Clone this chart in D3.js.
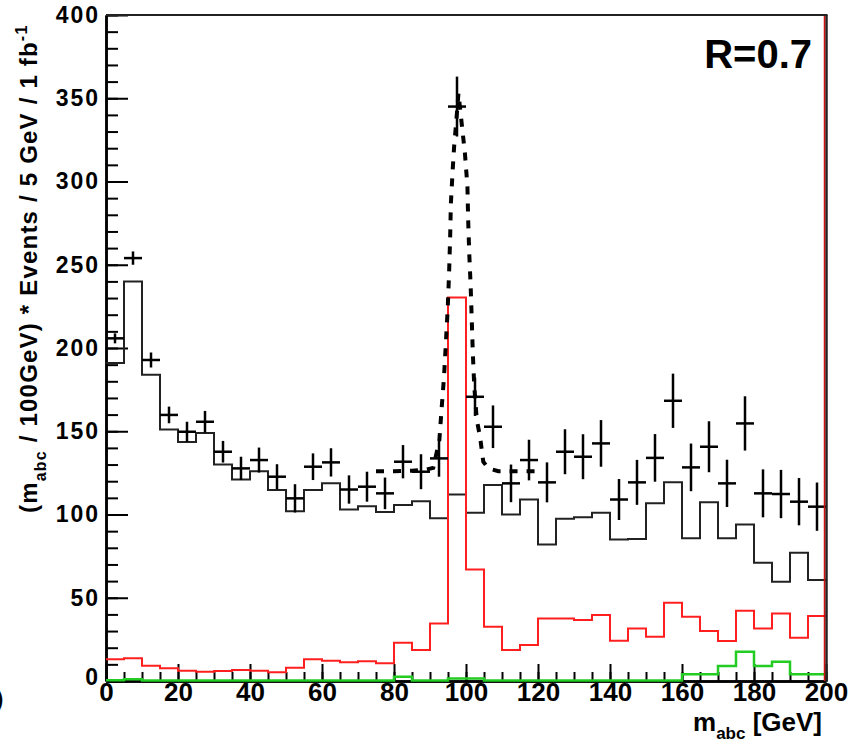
<!DOCTYPE html>
<html>
<head>
<meta charset="utf-8">
<script src="https://cdn.jsdelivr.net/npm/d3@7"></script>
<style>
  body { margin: 0; background: #fff; }
  text { font-family: "Liberation Sans", Arial, Helvetica, sans-serif; font-weight: bold; }
</style>
</head>
<body>
<svg id="chart"></svg>
<script>
// bin edges: 40 bins of 5 GeV from 0 to 200
let binLow = d3.range(0, 200, 5);

// black solid histogram (background)
let bkgHist = [191, 240, 184, 151, 143.5, 149, 130, 121, 126, 114.7,
               102, 114.7, 118.7, 103, 105, 101.5, 105.7, 108, 97.7, 112,
               101, 117.7, 100, 109, 82, 97.5, 98.3, 101, 85, 85.3,
               106.7, 119.3, 85.7, 107.3, 85.7, 94, 71, 59.6, 77, 60.7];

// red histogram (signal)
let sigHist = [13, 13.6, 9.2, 7.6, 6.2, 5.6, 6, 6.6, 6.2, 5.2,
               8, 13, 12.2, 11.2, 11.8, 10.6, 23, 18.6, 34.6, 230.4,
               67, 32.6, 18.6, 21.6, 37.6, 37.6, 36.6, 39.6, 24.2, 31.6,
               26.6, 47, 38.6, 30, 24, 42.2, 31.6, 40.6, 26, 39];

// green histogram
let greenHist = [0.5, 1, 0.3, 0.3, 0.3, 0.3, 0.3, 0.3, 0.3, 0.3,
                 0.3, 0.3, 0.3, 0.3, 0.3, 0.3, 2.5, 0.3, 0.3, 1.5,
                 1.5, 0.3, 0.3, 0.3, 0.3, 0.3, 0.3, 0.3, 0.3, 0.3,
                 0.3, 0.3, 4, 4, 9, 17.5, 9, 11.5, 4, 4];

// data points with errors
let dataVals = [205.8, 254, 192.8, 159.8, 149.7, 155.7, 137.7, 127.7, 132.7, 122.7,
                109.7, 128.7, 131.3, 115, 116.7, 112.7, 131.7, 125.7, 133.7, 345,
                170.7, 152.7, 118.7, 132.7, 119.3, 137.7, 134.7, 142.7, 109, 119.3,
                134, 168.3, 128.3, 140.7, 118.7, 154.7, 112.7, 112.3, 107.7, 104.7];
let dataErr = [3, 4, 4.5, 5, 6, 6.5, 6.5, 7, 7.5, 7.5,
               8.5, 8, 8.5, 8.5, 9, 9.5, 10, 10.5, 11, 18,
               11.5, 12.8, 11.3, 12.2, 12, 13.5, 13.5, 14, 12.3, 13.5,
               14.3, 16.3, 14.3, 15.3, 14.2, 16.3, 14.4, 14.5, 14.2, 14.5];

// dashed fit curve
let fitX = [75, 80, 85, 89, 90.9, 92.6, 93.2, 93.9, 94.4, 94.9, 95.3, 95.6, 95.8, 96.3, 96.7, 97.4, 97.9,
            99.0, 99.7, 100.4, 100.6, 100.9, 101.3, 101.6, 101.9, 102.3, 103.0, 103.9, 104.8, 106.2, 109, 115, 120];
let fitY = [126, 126, 126.3, 127, 128, 144.7, 162.8, 182.8, 202.8, 222.8, 244.9, 266.9, 286.9, 306.9, 320.9, 338.9, 353,
            330.9, 317, 296.9, 276.9, 256.9, 236.8, 216.8, 196.8, 176.8, 156.8, 146.7, 131.7, 127.7, 126, 126, 126];

let xTicks = [0, 20, 40, 60, 80, 100, 120, 140, 160, 180, 200];
let yTicks = [0, 50, 100, 150, 200, 250, 300, 350, 400];

function drawChart() {
    let margin = {top: 15, right: 25, bottom: 65, left: 106};
    let totalW = 851, totalH = 746;
    let width = totalW - margin.left - margin.right;
    let height = totalH - margin.top - margin.bottom;

    let svg = d3.select("#chart")
        .attr("width", totalW)
        .attr("height", totalH);

    let g = svg.append("g")
        .attr("transform", "translate(" + margin.left + "," + margin.top + ")");

    let x = d3.scaleLinear().domain([0, 200]).range([0, width]);
    let y = d3.scaleLinear().domain([0, 400]).range([height, 0]);

    // y axis, ticks pointing inside
    let yMinor = g.append("g")
        .call(d3.axisLeft(y).tickValues(d3.range(0, 401, 10)).tickSize(-12).tickSizeOuter(0).tickFormat(""));
    let yAxis = g.append("g")
        .call(d3.axisLeft(y).tickValues(yTicks).tickSize(-22).tickSizeOuter(0).tickPadding(6));

    // x axis, ticks pointing up
    let xMinor = g.append("g")
        .attr("transform", "translate(0," + height + ")")
        .call(d3.axisBottom(x).tickValues(d3.range(0, 201, 5)).tickSize(-9).tickSizeOuter(0).tickFormat(""));
    let xAxis = g.append("g")
        .attr("transform", "translate(0," + height + ")")
        .call(d3.axisBottom(x).tickValues(xTicks).tickSize(-17).tickSizeOuter(0).tickPadding(6));

    g.selectAll(".domain").attr("stroke", "black").attr("stroke-width", 2.5);
    g.selectAll(".tick line").attr("stroke", "black").attr("stroke-width", 2);

    yAxis.selectAll("text")
        .attr("font-size", "23px")
        .attr("letter-spacing", "2px")
        .attr("fill", "black");
    yAxis.selectAll("text").filter(d => d == 0)
        .attr("dy", "0.15em");

    xAxis.selectAll("text")
        .attr("font-size", "26px")
        .attr("fill", "black")
        .attr("dy", "0.55em");

    // histogram outline as step line
    function stepPoints(vals) {
        let pts = vals.map((v, i) => [binLow[i], v]);
        pts.push([200, vals[vals.length - 1]]);
        return pts;
    }
    let step = d3.line()
        .x(d => x(d[0]))
        .y(d => y(d[1]))
        .curve(d3.curveStepAfter);

    g.append("path")
        .attr("d", step(stepPoints(bkgHist)))
        .attr("fill", "none")
        .attr("stroke", "#222")
        .attr("stroke-width", 2);

    g.append("path")
        .attr("d", step(stepPoints(sigHist)))
        .attr("fill", "none")
        .attr("stroke", "#ff1f1f")
        .attr("stroke-width", 2);

    g.append("path")
        .attr("d", step(stepPoints(greenHist)))
        .attr("fill", "none")
        .attr("stroke", "#22cc22")
        .attr("stroke-width", 2.5);

    // data crosses
    let pts = g.append("g").attr("stroke", "black").attr("stroke-width", 2.5);
    pts.selectAll("line.h")
        .data(dataVals)
        .join("line")
        .attr("class", "h")
        .attr("x1", (d, i) => x(binLow[i]))
        .attr("x2", (d, i) => x(binLow[i] + 5))
        .attr("y1", d => y(d))
        .attr("y2", d => y(d));
    pts.selectAll("line.v")
        .data(dataVals)
        .join("line")
        .attr("class", "v")
        .attr("x1", (d, i) => x(binLow[i] + 2.5))
        .attr("x2", (d, i) => x(binLow[i] + 2.5))
        .attr("y1", (d, i) => y(d - dataErr[i]))
        .attr("y2", (d, i) => y(d + dataErr[i]));

    // fit
    let fitLine = d3.line()
        .x(d => x(d[0]))
        .y(d => y(d[1]));
    g.append("path")
        .attr("d", fitLine(fitX.map((v, i) => [v, fitY[i]])))
        .attr("fill", "none")
        .attr("stroke", "black")
        .attr("stroke-width", 4)
        .attr("stroke-dasharray", "8,9");

    // frame top / right
    g.append("line")
        .attr("x1", 0).attr("x2", width + 1.5)
        .attr("y1", 0).attr("y2", 0)
        .attr("stroke", "#222").attr("stroke-width", 2);
    g.append("line")
        .attr("x1", width + 0.5).attr("x2", width + 0.5)
        .attr("y1", 0).attr("y2", height + 1)
        .attr("stroke", "#222").attr("stroke-width", 2.5);
    g.append("line")
        .attr("x1", width - 1.5).attr("x2", width - 1.5)
        .attr("y1", 1).attr("y2", height)
        .attr("stroke", "#d01010").attr("stroke-width", 1.5);

    // axis titles
    let xt = svg.append("text")
        .attr("x", 822)
        .attr("y", 731)
        .attr("text-anchor", "end")
        .attr("font-size", "26px")
        .attr("fill", "black");
    xt.append("tspan").text("m");
    xt.append("tspan").attr("font-size", "17px").attr("dy", 8).text("abc");
    xt.append("tspan").attr("dy", -8).text(" [GeV]");

    let yt = svg.append("text")
        .attr("transform", "translate(37,513) rotate(-90)")
        .attr("text-anchor", "start")
        .attr("font-size", "24px")
        .attr("letter-spacing", "1.2px")
        .attr("fill", "black");
    yt.append("tspan").text("(m");
    yt.append("tspan").attr("font-size", "16px").attr("dy", 9).text("abc");
    yt.append("tspan").attr("dy", -9).text(" / 100GeV) * Events / 5 GeV / 1 fb");
    yt.append("tspan").attr("font-size", "16px").attr("dy", -10).text("-1");

    svg.append("text")
        .attr("x", 812)
        .attr("y", 68)
        .attr("text-anchor", "end")
        .attr("font-size", "40px")
        .attr("fill", "black")
        .text("R=0.7");

    // cropped glyph at the far left edge of the original image
    svg.append("text")
        .attr("x", -4)
        .attr("y", 706)
        .attr("font-size", "22px")
        .attr("fill", "black")
        .text(")");
}
drawChart();
</script>
</body>
</html>
